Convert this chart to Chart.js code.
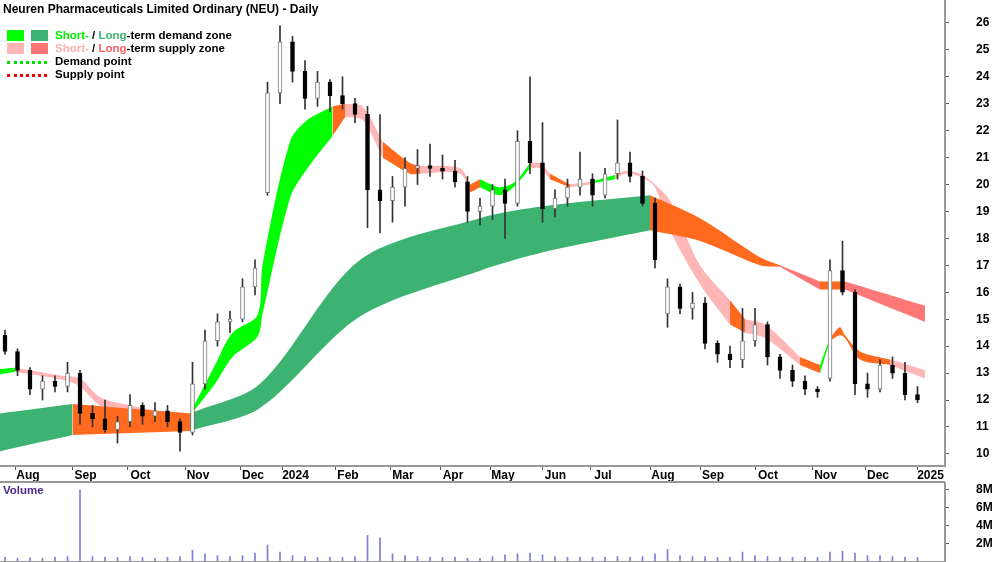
<!DOCTYPE html>
<html><head><meta charset="utf-8">
<script src="https://cdn.jsdelivr.net/npm/chart.js@4"></script>
<style>
body{margin:0;width:1000px;height:562px;background:#fff;overflow:hidden;font-family:Arial,"Liberation Sans",sans-serif;position:relative}
#w1{position:absolute;left:0;top:0;width:1000px;height:482px}
#w2{position:absolute;left:0;top:482px;width:1000px;height:80px}
.t{position:absolute;font-weight:bold;font-size:11.5px;color:#000;white-space:nowrap}
.sw{position:absolute;width:17px;height:11px}
.dot{position:absolute;width:40px;height:0;border-top:3px dotted}
#sep{position:absolute;left:0;top:481px;width:945px;height:2px;background:#999}
</style></head><body>
<div id="w1"><canvas id="c1"></canvas></div>
<div id="w2"><canvas id="c2"></canvas></div>
<div id="sep"></div>
<div class="t" style="left:3px;top:2px;font-size:12px">Neuren Pharmaceuticals Limited Ordinary (NEU) - Daily</div>
<div class="sw" style="left:7px;top:30px;background:#00ff00"></div>
<div class="sw" style="left:31px;top:30px;background:#3cb371"></div>
<div class="t" style="left:55px;top:29px"><span style="color:#00ee00">Short-</span> / <span style="color:#3cb371">Long</span>-term demand zone</div>
<div class="sw" style="left:7px;top:43px;background:#ffb6b6"></div>
<div class="sw" style="left:31px;top:43px;background:#ff7474"></div>
<div class="t" style="left:55px;top:42px"><span style="color:#ffb0b0">Short-</span> / <span style="color:#ff6060">Long</span>-term supply zone</div>
<div class="dot" style="left:7px;top:61px;border-color:#00dd00"></div>
<div class="t" style="left:55px;top:55px">Demand point</div>
<div class="dot" style="left:7px;top:74px;border-color:#ee0000"></div>
<div class="t" style="left:55px;top:68px">Supply point</div>
<div class="t" style="left:3px;top:484px;color:#4b2a90">Volume</div>
<script>
// trading-day index positions of month ticks
const monthDays=[6,29,51,74,96,113,134,156,176,196,217,236,260,280,302,325,346,367];
const monthLabels=['Aug','Sep','Oct','Nov','Dec','2024','Feb','Mar','Apr','May','Jun','Jul','Aug','Sep','Oct','Nov','Dec','2025'];
const priceTicks=[10,11,12,13,14,15,16,17,18,19,20,21,22,23,24,25,26];
const volumeTicks=[2,4,6,8];
// weekly candles: day index, open, high, low, close
const candleDay=[2,7,12,17,22,27,32,37,42,47,52,57,62,67,72,77,82,87,92,97,102,107,112,117,122,127,132,137,142,147,152,157,162,167,172,177,182,187,192,197,202,207,212,217,222,227,232,237,242,247,252,257,262,267,272,277,282,287,292,297,302,307,312,317,322,327,332,337,342,347,352,357,362,367];
const openP=[14.4,13.8,13.1,12.4,12.7,12.5,13.0,11.5,11.3,10.9,11.2,11.8,11.4,11.6,11.2,10.8,12.6,14.2,14.9,15.0,16.2,19.7,23.4,25.3,24.2,23.2,23.8,23.3,23.0,22.6,19.8,19.4,19.9,20.6,20.7,20.6,20.5,20.1,19.0,19.2,19.8,19.3,21.6,20.8,19.1,19.5,19.9,20.2,19.6,20.4,20.8,20.3,19.3,15.2,16.2,15.4,15.6,14.1,13.7,13.5,14.2,14.8,13.6,13.1,12.7,12.4,12.8,16.8,16.0,12.6,12.4,13.3,13.0,12.2];
const highP=[14.6,13.9,13.2,12.9,12.9,13.4,13.1,11.8,12.0,11.4,12.2,11.9,11.9,11.8,11.3,13.4,14.6,15.2,15.3,16.5,17.2,23.8,25.9,25.5,24.6,24.2,23.9,24.0,23.2,22.9,22.6,20.3,21.0,21.3,21.5,21.1,20.9,20.3,19.5,20.0,20.2,22.0,24.0,22.3,19.8,20.2,21.2,20.4,20.6,22.4,21.2,20.5,19.5,16.5,16.3,16.0,15.8,14.2,14.0,15.4,15.4,14.9,13.7,13.3,12.9,12.5,17.2,17.9,16.1,13.0,13.5,13.6,13.4,12.5];
const lowP=[13.7,12.9,12.2,12.0,12.3,12.3,11.1,11.0,10.8,10.4,11.0,11.1,11.2,11.0,10.1,10.7,12.4,14.0,14.5,14.9,15.9,19.6,23.0,23.8,22.8,22.9,22.7,22.8,22.3,18.4,18.2,18.6,19.2,20.0,20.3,20.2,19.9,18.6,18.5,18.7,18.0,19.2,20.4,18.6,18.8,19.2,19.6,19.2,19.5,20.2,20.1,19.2,16.9,14.7,15.2,15.0,13.9,13.4,13.2,13.2,14.0,13.3,12.8,12.5,12.2,12.1,12.7,15.9,12.2,12.1,12.3,12.8,12.0,11.9];
const closeP=[13.8,13.1,12.4,12.7,12.5,13.0,11.5,11.3,10.9,11.2,11.8,11.4,11.6,11.2,10.8,12.6,14.2,14.9,15.0,16.2,16.9,23.4,25.3,24.2,23.2,23.8,23.3,23.0,22.6,19.8,19.4,19.9,20.6,20.7,20.6,20.5,20.1,19.0,19.2,19.8,19.3,21.6,20.8,19.1,19.5,19.9,20.2,19.6,20.4,20.8,20.3,19.3,17.2,16.2,15.4,15.6,14.1,13.7,13.5,14.2,14.8,13.6,13.1,12.7,12.4,12.3,16.8,16.0,12.6,12.4,13.3,13.0,12.2,12.0];
const volumeM=[0.4,0.3,0.35,0.3,0.4,0.5,8.0,0.5,0.4,0.4,0.5,0.4,0.3,0.4,0.5,1.2,0.8,0.6,0.5,0.6,0.9,1.8,1.0,0.6,0.5,0.4,0.4,0.4,0.5,2.9,2.6,0.8,0.6,0.5,0.4,0.4,0.4,0.3,0.3,0.5,0.7,0.8,0.9,0.7,0.5,0.4,0.4,0.4,0.4,0.5,0.4,0.5,0.8,1.3,0.6,0.5,0.5,0.4,0.4,1.0,0.6,0.5,0.4,0.4,0.4,0.4,1.0,1.1,0.9,0.6,0.6,0.5,0.4,0.4];
// long-term zone: day, top, bottom, segment colour code (to next point)
const longDay=[0,29,76,104,144,192,218,260,280,304,312,328,338,370];
const longTop=[11.5,11.85,11.5,12.6,17.2,18.75,19.2,19.6,18.75,17.3,17.0,16.4,16.4,15.5];
const longBot=[10.1,10.7,10.85,11.7,15.1,16.8,17.5,18.3,17.9,17.0,16.95,16.1,16.1,14.9];
const longCode=['G','O','G','G','G','G','G','O','O','O','R','O','R','R'];
// short-term zone
const shortDay=[0,6,25,32,40,52,64,76,86,93,103,105,116,123,133,138,145,153,164,168,184,188,192,200,206,212,216,220,228,236,240,246,250,256,262,268,280,292,298,306,320,328,332,336,338,344,356,360,370];
const shortTop=[13.15,13.2,12.9,12.8,12.1,11.8,11.6,11.5,13.3,14.5,15.15,17.0,21.6,22.4,22.9,23.0,22.9,21.6,20.8,20.7,20.6,20.0,20.2,19.9,20.1,20.8,20.8,20.4,20.0,20.1,20.2,20.35,20.5,20.4,20.0,19.4,17.0,15.7,15.0,14.8,13.6,13.3,14.3,14.7,14.4,13.8,13.5,13.4,13.1];
const shortBot=[12.95,13.05,12.75,12.5,11.8,11.6,11.3,11.4,12.6,13.6,14.35,15.2,19.5,20.6,21.8,22.5,22.4,21.0,20.4,20.4,20.4,19.7,19.9,19.6,19.95,20.6,20.6,20.2,19.9,20.0,20.1,20.2,20.4,20.3,19.9,18.3,16.3,14.8,14.5,14.3,13.3,13.0,14.2,14.4,14.3,13.5,13.3,13.15,12.8];
const shortCode=['L','P','P','P','P','P','P','L','L','L','L','L','L','L','O','P','P','O','O','P','P','O','L','L','L','P','P','O','P','L','L','P','P','P','P','P','P','O','P','P','O','L','O','O','O','O','P','P','P'];

const COL={G:'#3cb371',O:'#ff6a1f',R:'#ff7878',L:'#00ff00',P:'#ffb6b6'};
const datasets=[];
function addBand(days,top,bot,code){
  let s=0;
  for(let i=1;i<days.length;i++){
    if(i===days.length-1||code[i]!==code[s]){
      const t=[],b=[];
      for(let j=s;j<=i;j++){t.push({x:days[j],y:top[j]});b.push({x:days[j],y:bot[j]});}
      datasets.push({type:'line',data:t,borderWidth:0,pointRadius:0,fill:false,order:10,tension:0.3});
      datasets.push({type:'line',data:b,borderWidth:0,pointRadius:0,fill:'-1',backgroundColor:COL[code[s]],order:10,tension:0.3});
      s=i;
    }
  }
}
addBand(longDay,longTop,longBot,longCode);
addBand(shortDay,shortTop,shortBot,shortCode);
const wick=candleDay.map((d,i)=>({x:d,y:[lowP[i],highP[i]]}));
const body=candleDay.map((d,i)=>({x:d,y:[Math.min(openP[i],closeP[i]),Math.max(openP[i],closeP[i])+0.001]}));
const up=candleDay.map((d,i)=>closeP[i]>=openP[i]);
datasets.push({type:'bar',data:wick,backgroundColor:'#333',barThickness:1,grouped:false,order:2});
datasets.push({type:'bar',data:body,backgroundColor:up.map(u=>u?'#fff':'#000'),borderColor:up.map(u=>u?'#777':'#000'),borderWidth:1,borderSkipped:false,barThickness:4,grouped:false,order:1});

const font={family:'Arial',size:12,weight:'bold'};
function yFit(s){s.width=55;s.paddingTop=0;s.paddingBottom=0;}
new Chart(document.getElementById('c1'),{
  data:{datasets},
  options:{responsive:true,maintainAspectRatio:false,animation:false,events:[],
    layout:{padding:0},
    plugins:{legend:{display:false},tooltip:{enabled:false}},
    scales:{
      x:{type:'linear',min:0,max:378,offset:false,
        afterBuildTicks:s=>{s.ticks=monthDays.map(v=>({value:v}));},
        ticks:{autoSkip:false,maxRotation:0,minRotation:0,labelOffset:13,padding:-2,color:'#000',font,callback:(v,i)=>monthLabels[i]},
        grid:{drawOnChartArea:false,tickLength:4,color:'#555',offset:false},
        border:{color:'#999',width:2},
        afterFit:s=>{s.height=16;s.paddingLeft=0;s.paddingRight=0;}},
      y:{position:'right',min:9.55,max:26.85,
        afterBuildTicks:s=>{s.ticks=priceTicks.map(v=>({value:v}));},
        ticks:{color:'#000',font,padding:27,maxRotation:0,minRotation:0},
        grid:{drawOnChartArea:false,tickLength:4,color:'#555'},
        border:{color:'#999',width:2},
        afterFit:yFit}
    }}
});

new Chart(document.getElementById('c2'),{
  type:'bar',
  data:{datasets:[{data:candleDay.map((d,i)=>({x:d,y:volumeM[i]})),backgroundColor:'#7d7dd6',barThickness:1}]},
  options:{responsive:true,maintainAspectRatio:false,animation:false,events:[],
    layout:{padding:0},
    plugins:{legend:{display:false},tooltip:{enabled:false}},
    scales:{
      x:{type:'linear',min:0,max:378,offset:false,ticks:{display:false},grid:{display:false},border:{color:'#999'},afterFit:s=>{s.height=1;s.paddingLeft=0;s.paddingRight=0;}},
      y:{position:'right',min:0,max:8.9,
        afterBuildTicks:s=>{s.ticks=volumeTicks.map(v=>({value:v}));},
        ticks:{color:'#000',font,padding:27,maxRotation:0,minRotation:0,callback:v=>v+'M'},
        grid:{drawOnChartArea:false,tickLength:4,color:'#555'},
        border:{color:'#999',width:2},
        afterFit:yFit}
    }}
});
</script></body></html>
